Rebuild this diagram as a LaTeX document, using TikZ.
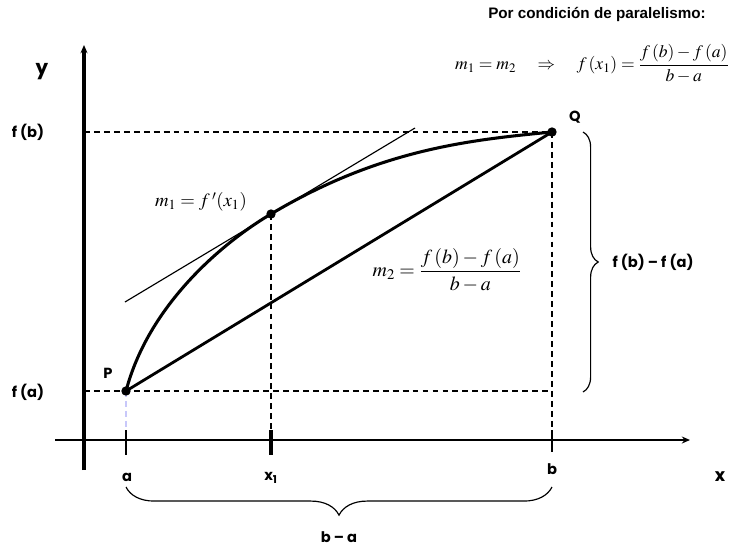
\documentclass[tikz,border=0pt]{standalone}
\usepackage{amsmath,amssymb}
\usepackage{mathptmx}
\usepackage{fontspec}
\usetikzlibrary{arrows.meta,decorations.pathreplacing}
\newfontfamily\rotulo{Poppins}
\newfontfamily\titulo{Liberation Sans}
\definecolor{Lavanda}{HTML}{C8C8FA}

\begin{document}
\begin{tikzpicture}[x=0.03cm,y=-0.03cm,
    lbl/.style={font=\rotulo\bfseries\fontsize{12.5}{14}\selectfont,inner sep=0pt},
    formula/.style={font=\fontsize{17}{20}\selectfont,inner sep=0pt},
    guia/.style={line width=1.5pt,dash pattern=on 5pt off 3.5pt},
    punto/.style={circle,fill,inner sep=0pt,minimum size=8pt},
    llave/.style={decorate,line width=1pt}
  ]
  \useasboundingbox (0,0) rectangle (730,546);

  % ejes
  \coordinate (yb) at (84,470);
  \coordinate (yt) at (84,45);
  \coordinate (xl) at (55,440);
  \coordinate (xr) at (690,440);
  \draw[line width=3pt,-{Stealth[length=7pt,width=6pt]}] (yb) -- (yt);
  \draw[line width=1.5pt,-{Stealth[length=7pt,width=6pt]}] (xl) -- (xr);

  % puntos
  \coordinate (P) at (126,391);
  \coordinate (M) at (271,214);
  \coordinate (Q) at (552,132);

  \coordinate (fa) at (84,391);
  \coordinate (fb) at (84,132);
  \coordinate (faQ) at (552,391);
  \coordinate (Oa) at (126,428);
  \coordinate (Ox) at (271,440);
  \coordinate (Ob) at (552,440);

  % guias punteadas
  \draw[guia] (fb) -- (Q);
  \draw[guia] (fa) -- (faQ);
  \draw[guia] (Q) -- (Ob);
  \draw[guia] (M) -- (Ox);
  \draw[guia,Lavanda] (P) -- (Oa);

  % marcas
  \draw[line width=1.5pt] (126,430) -- (126,455);
  \draw[line width=3pt] (271,430) -- (271,455);
  \draw[line width=1.5pt] (552,430) -- (552,452);

  % tangente, curva y cuerda
  \coordinate (t1) at (125,302);
  \coordinate (t2) at (415,128);
  \draw[line width=1pt] (t1) -- (t2);
  \draw[line width=2.6pt] (P) .. controls (150,300) and (230,238) .. (M)
    .. controls (380,149) and (470,140) .. (Q);
  \draw[line width=2.4pt] (P) -- (Q);

  \node[punto] (Pdot) at (P) {};
  \node[punto] (Mdot) at (M) {};
  \node[punto] (Qdot) at (Q) {};

  % llaves
  \draw[llave,decoration={brace,amplitude=13pt}] (583,132) -- (583,392);
  \draw[llave,decoration={brace,amplitude=24pt}] (552,487) -- (126,487);

  % rotulos
  \node[lbl,font=\rotulo\bfseries\fontsize{17}{19}\selectfont] (ylab) at (42,72) {y};
  \node[lbl] (fblab) at (28,132) {f (b)};
  \node[lbl] (falab) at (28,392) {f (a)};
  \node[lbl] (Plab) at (108,373) {P};
  \node[lbl] (Qlab) at (575,117) {Q};
  \node[lbl] (alab) at (127,477) {a};
  \node[lbl] (x1lab) at (271,478) {x\textsubscript{1}};
  \node[lbl] (blab) at (552,469) {b};
  \node[lbl,font=\rotulo\bfseries\fontsize{15}{17}\selectfont] (xlab) at (720,477) {x};
  \node[lbl] (balab) at (339,537) {b – a};
  \node[lbl] (dflab) at (653,262) {f (b) – f (a)};

  \node[inner sep=0pt,font=\titulo\bfseries\fontsize{13}{15}\selectfont] (tit) at (597,14)
    {Por condición de paralelismo:};
  \node[formula,font=\fontsize{15}{18}\selectfont] (cond) at (592,64)
    {$m_1 = m_2 \quad\Rightarrow\quad f\left(x_1\right) = \dfrac{f\left(b\right) - f\left(a\right)}{b - a}$};
  \node[formula,font=\fontsize{16}{19}\selectfont] (m1) at (201,202) {$m_1 = f\,'\!\left(x_1\right)$};
  \node[formula] (m2) at (447,270) {$m_2 = \dfrac{f\left(b\right) - f\left(a\right)}{b - a}$};
\end{tikzpicture}
\end{document}
